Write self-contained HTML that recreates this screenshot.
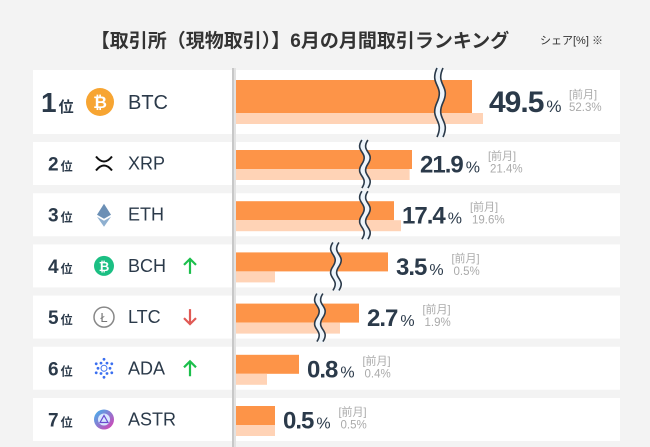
<!DOCTYPE html>
<html><head><meta charset="utf-8"><style>
body{margin:0;width:650px;height:447px;background:#f3f3f3;overflow:hidden;font-family:"Liberation Sans","Noto Sans CJK JP",sans-serif}
svg{display:block}
</style></head><body>
<svg id="chart" width="650" height="447">
<defs><linearGradient id="astr" x1="0" y1="0" x2="1" y2="1"><stop offset="0" stop-color="#3ab8f0"/><stop offset="1" stop-color="#e03ab0"/></linearGradient></defs>
<text x="300" y="47" text-anchor="middle" font-size="19" font-weight="bold" fill="#333">【取引所（現物取引）】6月の月間取引ランキング</text>
<text x="540" y="44" font-size="11" fill="#333">シェア[%] ※</text>
<g id="rows"></g>
<rect x="232" y="68" width="2" height="379" fill="#c8c8c8"/>
<rect x="234" y="68" width="2" height="379" fill="#e2e2e2"/>
</svg>
<script>
const names=["BTC","XRP","ETH","BCH","LTC","ADA","ASTR"];
const current=[49.5,21.9,17.4,3.5,2.7,0.8,0.5];
const previous=[52.3,21.4,19.6,0.5,1.9,0.4,0.5];
const trend=["","","","up","down","up",""];
const breakVals=[33.4,2.78,2.78,1.71,1.28,null,null];
// broken-axis scale
const dom=[0,0.8,1.9,2.7,3.5,17.4,19.6,21.9,49.5,52.3,60];
const rng=[0,64,105,124,153,159,166,177,237,248,270];
function xs(v){for(let i=1;i<dom.length;i++){if(v<=dom[i]){const t=(v-dom[i-1])/(dom[i]-dom[i-1]);return 235+rng[i-1]+t*(rng[i]-rng[i-1]);}}return 235+rng[rng.length-1];}
const NS="http://www.w3.org/2000/svg";
const g=document.getElementById('rows');
function el(tag,attrs,parent,text){const e=document.createElementNS(NS,tag);for(const k in attrs)e.setAttribute(k,attrs[k]);if(text!==undefined)e.textContent=text;(parent||g).appendChild(e);return e;}
const DARK="#2b3a4a";
names.forEach((n,i)=>{
  const first=i===0;
  const top=first?70:142+(i-1)*51.2;
  const h=first?64:43;
  const row=el('g',{});
  
  
  const bg=el('rect',{x:33,y:top,width:587,height:h,fill:'#fff'},row);
  
  
  const cy=top+h/2;
  const rk=el('text',{x:first?41:48,y:cy+(first?10:7),fill:DARK,'font-weight':'bold','font-size':first?28:19},row);
  
  
  el('tspan',{},rk,String(i+1));
  el('tspan',{'font-size':first?15:12,dx:2},rk,'位');
  const ix=first?100:104;
  const ic=el('g',{},row);
  
  
  if(n==="BTC"){el('circle',{cx:ix,cy:cy,r:14,fill:'#f7a532'},ic);el('text',{x:ix,y:cy+6,'text-anchor':'middle','font-size':17,'font-weight':'bold',fill:'#fff'},ic,'₿');}
  else if(n==="XRP"){el('path',{d:`M${ix-8} ${cy-7} Q${ix} ${cy+3} ${ix+8} ${cy-7} M${ix-8} ${cy+7} Q${ix} ${cy-3} ${ix+8} ${cy+7}`,stroke:'#111',fill:'none','stroke-width':2},ic);}
  else if(n==="ETH"){el('path',{d:`M${ix} ${cy-11} L${ix+7} ${cy} L${ix} ${cy+4} L${ix-7} ${cy} Z`,fill:'#6b8fb5'},ic);el('path',{d:`M${ix} ${cy+6} L${ix+7} ${cy+2} L${ix} ${cy+12} L${ix-7} ${cy+2} Z`,fill:'#8fb0d0'},ic);}
  else if(n==="BCH"){el('circle',{cx:ix,cy:cy,r:10,fill:'#1bbf83'},ic);el('text',{x:ix,y:cy+5,'text-anchor':'middle','font-size':13,'font-weight':'bold',fill:'#fff'},ic,'₿');}
  else if(n==="LTC"){el('circle',{cx:ix,cy:cy,r:10,fill:'#fff',stroke:'#888','stroke-width':1.5},ic);el('text',{x:ix,y:cy+5,'text-anchor':'middle','font-size':13,fill:'#777'},ic,'Ł');}
  else if(n==="ADA"){for(let a=0;a<12;a++){const r=a%2?9:6;el('circle',{cx:ix+r*Math.cos(a*Math.PI/6),cy:cy+r*Math.sin(a*Math.PI/6),r:1.4,fill:'#3a6ff0'},ic);}el('circle',{cx:ix,cy:cy,r:3,fill:'none',stroke:'#3a6ff0'},ic);}
  else {el('circle',{cx:ix,cy:cy,r:10,fill:'url(#astr)'},ic);el('circle',{cx:ix,cy:cy,r:6,fill:'#d8e8ff'},ic);el('path',{d:`M${ix-4} ${cy+3} L${ix} ${cy-4} L${ix+4} ${cy+3} Z`,fill:'none',stroke:'#6a4ad0','stroke-width':1.2},ic);}
  const nm=el('text',{x:128,y:cy+(first?7:6),fill:DARK,'font-size':first?20:18},row,n);
  
  
  if(trend[i]){const up=trend[i]==="up";const c=up?'#1cbf4c':'#e05a55';const ax=190;
    const ar=el('path',{d:up?`M${ax} ${cy+8} V${cy-7} M${ax-6} ${cy-1} L${ax} ${cy-7} L${ax+6} ${cy-1}`:`M${ax} ${cy-8} V${cy+7} M${ax-6} ${cy+1} L${ax} ${cy+7} L${ax+6} ${cy+1}`,stroke:c,'stroke-width':2.2,fill:'none'},row);
    
    }
  const by=first?top+10:top+8, bh=first?33:19, lh=11;
  const b1=el('rect',{x:235,y:by,width:xs(current[i])-235,height:bh,fill:'#fd9448'},row);
  
  
  const b2=el('rect',{x:235,y:by+bh,width:xs(previous[i])-235,height:lh,fill:'#ffd3b6'},row);
  
  
  if(breakVals[i]!==null){const bx=xs(breakVals[i]);const t=top-2,b=top+h+3,m=(t+b)/2,q=(b-t)/4;
    const p=`M${bx} ${t} C${bx-8} ${t+q} ${bx+8} ${m-q} ${bx} ${m} C${bx-8} ${m+q} ${bx+8} ${b-q} ${bx} ${b}`;
    const p2=`M${bx+6} ${t} C${bx-2} ${t+q} ${bx+14} ${m-q} ${bx+6} ${m} C${bx-2} ${m+q} ${bx+14} ${b-q} ${bx+6} ${b}`;
    const bk=el('g',{},row);
    
    
    el('path',{d:p,stroke:'#eef5fb','stroke-width':6,fill:'none',transform:'translate(3,0)'},bk);
    el('path',{d:p,stroke:'#2b3a4a','stroke-width':1.6,fill:'none'},bk);
    el('path',{d:p2,stroke:'#2b3a4a','stroke-width':1.6,fill:'none'},bk);}
  const vx=xs(current[i])+(first?17:8);
  const vt=el('text',{x:vx,y:cy+(first?10:9),fill:DARK,'font-weight':'bold','font-size':first?30:24,'letter-spacing':-1},row);
  
  
  el('tspan',{},vt,current[i].toFixed(1));
  el('tspan',{'font-size':first?17:16,dx:3,'font-weight':'normal'},vt,'%');
  const w=(current[i].toFixed(1).length)*(first?15.5:12.5)+(first?18:18);
  const pl=el('text',{x:vx+w,y:cy-4,fill:'#aaa','font-size':11},row,'[前月]');
  
  
  const pv=el('text',{x:vx+w+(first?0:2),y:cy+9,fill:'#aaa','font-size':11.5},row,previous[i].toFixed(1)+'%');
  
  
});
</script>
</body></html>
